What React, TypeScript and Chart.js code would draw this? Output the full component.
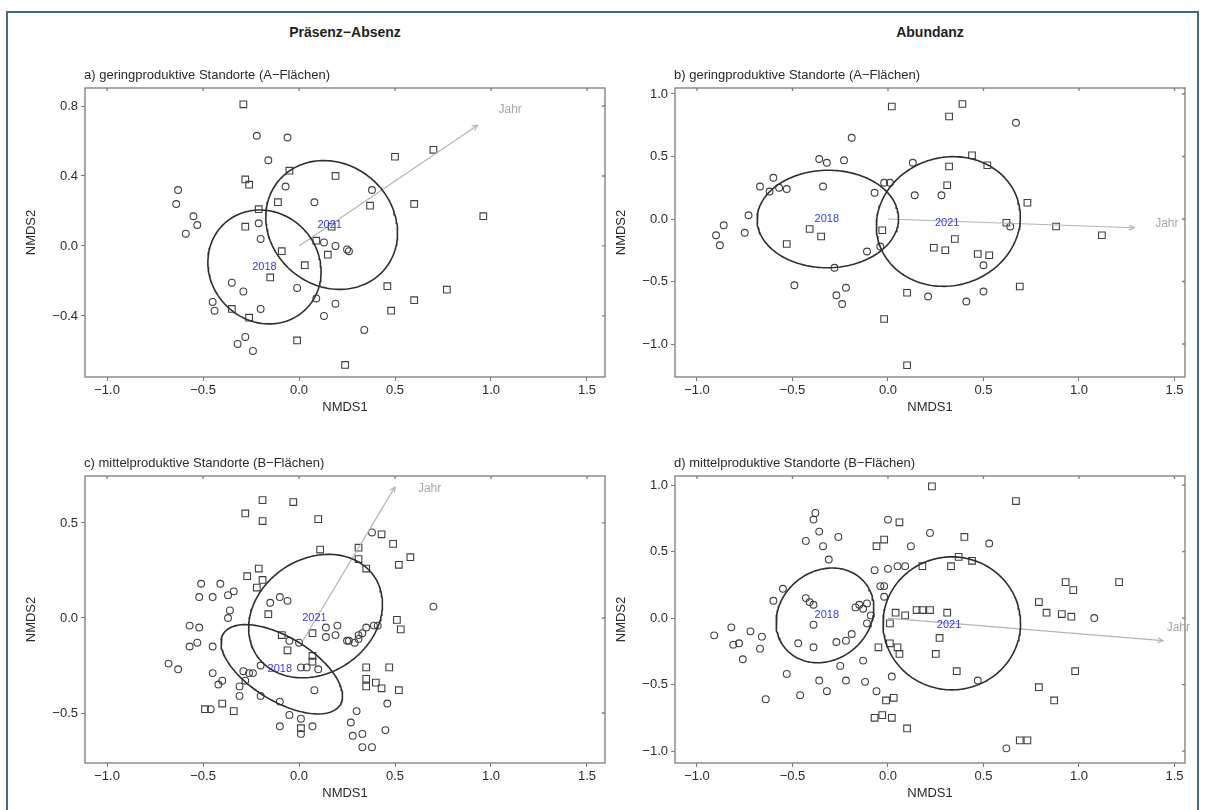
import React, { useEffect, useRef } from "react";
import { Chart, registerables } from "chart.js";
Chart.register(...registerables);

const FONT = "'Liberation Sans', Arial, Helvetica, sans-serif";

// ---------- headings / titles ----------
const headLeft = "Präsenz−Absenz";
const headRight = "Abundanz";
const titleA = "a) geringproduktive Standorte (A−Flächen)";
const titleB = "b) geringproduktive Standorte (A−Flächen)";
const titleC = "c) mittelproduktive Standorte (B−Flächen)";
const titleD = "d) mittelproduktive Standorte (B−Flächen)";
const xTitle = "NMDS1";
const yTitle = "NMDS2";
const arrowLabel = "Jahr";
const year1 = "2018";
const year2 = "2021";

// ---------- tick labels ----------
const xTicks = [-1.0, -0.5, 0.0, 0.5, 1.0, 1.5];
const yTicksA = [-0.4, 0.0, 0.4, 0.8];
const yTicksB = [-1.0, -0.5, 0.0, 0.5, 1.0];
const yTicksC = [-0.5, 0.0, 0.5];
const yTicksD = [-1.0, -0.5, 0.0, 0.5, 1.0];

// ---------- axis ranges ----------
const xRangeLeft = [-1.115, 1.594];
const xRangeRight = [-1.115, 1.555];
const yRangeA = [-0.749, 0.903];
const yRangeB = [-1.264, 1.048];
const yRangeC = [-0.763, 0.747];
const yRangeD = [-1.09, 1.068];

// ---------- panel a (presence/absence, A sites) ----------
const a2018 = [
  [-0.22, 0.63], [-0.06, 0.62], [-0.16, 0.49], [-0.07, 0.34], [-0.63, 0.32], [-0.64, 0.24],
  [0.08, 0.25], [-0.55, 0.17], [-0.53, 0.12], [-0.59, 0.07], [-0.21, 0.13], [-0.2, 0.04],
  [0.13, 0.02], [0.19, 0.0], [0.25, -0.02], [-0.35, -0.21], [-0.29, -0.26], [-0.01, -0.24],
  [0.09, -0.3], [0.19, -0.33], [-0.45, -0.32], [-0.44, -0.37], [-0.2, -0.36], [0.13, -0.4],
  [-0.28, -0.52], [-0.32, -0.56], [-0.24, -0.6], [0.38, 0.32], [0.26, -0.03], [0.34, -0.48],
];
const a2021 = [
  [-0.29, 0.81], [-0.05, 0.43], [0.19, 0.4], [-0.28, 0.38], [-0.26, 0.35], [-0.11, 0.25],
  [-0.21, 0.21], [-0.28, 0.11], [0.17, 0.11], [0.09, 0.03], [0.15, -0.05], [-0.09, -0.03],
  [0.03, -0.11], [-0.15, -0.18], [-0.35, -0.36], [-0.26, -0.41], [-0.01, -0.54], [0.24, -0.68],
  [0.5, 0.51], [0.7, 0.55], [0.37, 0.23], [0.6, 0.24], [0.96, 0.17], [0.46, -0.23],
  [0.77, -0.25], [0.6, -0.31], [0.48, -0.37],
];
const ellA2018 = [-0.18, -0.12, 0.29, 0.33, 20];
const ellA2021 = [0.17, 0.12, 0.33, 0.38, 30];
const arrowA = [0, 0, 0.93, 0.69];
const jahrA = [1.1, 0.78];
const labA2018 = [-0.18, -0.12];
const labA2021 = [0.16, 0.12];

// ---------- panel b (abundance, A sites) ----------
const b2018 = [
  [-0.19, 0.65], [-0.36, 0.48], [-0.32, 0.45], [-0.23, 0.47], [0.13, 0.45], [-0.6, 0.33],
  [-0.67, 0.26], [-0.62, 0.22], [-0.57, 0.25], [-0.53, 0.24], [-0.34, 0.26], [-0.07, 0.21],
  [-0.02, 0.29], [0.01, 0.29], [0.14, 0.19], [-0.73, 0.03], [-0.86, -0.05], [-0.75, -0.11],
  [-0.9, -0.13], [-0.88, -0.21], [-0.11, -0.26], [-0.04, -0.22], [-0.28, -0.39], [-0.49, -0.53],
  [-0.22, -0.55], [-0.27, -0.61], [-0.24, -0.68], [0.67, 0.77], [0.28, 0.19], [0.64, -0.06],
  [0.5, -0.37], [0.21, -0.62], [0.5, -0.58], [0.41, -0.66],
];
const b2021 = [
  [0.02, 0.9], [-0.41, -0.08], [-0.35, -0.14], [-0.53, -0.2], [-0.03, -0.09], [0.1, -0.59],
  [-0.02, -0.8], [0.1, -1.17], [0.39, 0.92], [0.32, 0.82], [0.44, 0.51], [0.32, 0.42],
  [0.52, 0.43], [0.31, 0.27], [0.73, 0.13], [0.62, -0.03], [0.88, -0.06], [1.12, -0.13],
  [0.35, -0.16], [0.3, -0.25], [0.47, -0.28], [0.53, -0.29], [0.69, -0.54], [0.24, -0.23],
];
const ellB2018 = [-0.315, 0.0, 0.37, 0.39, -5];
const ellB2021 = [0.316, -0.02, 0.375, 0.52, -6];
const arrowB = [0, 0, 1.29, -0.07];
const jahrB = [1.46, -0.035];
const labB2018 = [-0.32, 0.0];
const labB2021 = [0.31, -0.03];

// ---------- panel c (presence/absence, B sites) ----------
const c2018 = [
  [-0.51, 0.18], [-0.41, 0.18], [-0.52, 0.11], [-0.45, 0.11], [-0.37, 0.12], [-0.34, 0.14],
  [-0.36, 0.04], [-0.37, 0.0], [-0.57, -0.04], [-0.52, -0.05], [-0.57, -0.15], [-0.53, -0.13],
  [-0.45, -0.15], [-0.68, -0.24], [-0.63, -0.27], [-0.15, 0.08], [-0.1, 0.11], [-0.06, 0.09],
  [0.14, -0.05], [0.2, -0.04], [0.19, -0.09], [0.14, -0.1], [0.25, -0.12], [-0.05, -0.12],
  [0.0, -0.13], [0.01, -0.26], [0.04, -0.26], [0.1, -0.27], [-0.2, -0.25], [-0.45, -0.29],
  [-0.29, -0.28], [-0.26, -0.29], [-0.24, -0.29], [-0.28, -0.33], [-0.42, -0.35], [-0.4, -0.33],
  [-0.31, -0.36], [-0.31, -0.41], [0.08, -0.38], [-0.2, -0.41], [-0.46, -0.48], [-0.1, -0.44],
  [-0.05, -0.51], [0.01, -0.53], [-0.1, -0.57], [0.07, -0.57], [0.01, -0.61], [0.38, 0.45],
  [0.7, 0.06], [0.35, -0.05], [0.39, -0.04], [0.41, -0.04], [0.31, -0.09], [0.33, -0.08],
  [0.26, -0.12], [0.29, -0.13], [0.31, -0.11], [0.46, -0.45], [0.3, -0.49], [0.27, -0.55],
  [0.28, -0.62], [0.33, -0.61], [0.33, -0.68], [0.38, -0.68], [0.45, -0.59],
];
const c2021 = [
  [-0.19, 0.62], [-0.03, 0.61], [-0.28, 0.55], [-0.19, 0.51], [0.1, 0.52], [0.11, 0.36],
  [-0.21, 0.26], [-0.27, 0.22], [-0.19, 0.2], [-0.22, 0.16], [-0.16, 0.02], [0.07, -0.08],
  [-0.09, -0.09], [-0.06, -0.17], [0.07, -0.2], [0.07, -0.23], [-0.49, -0.48], [-0.4, -0.45],
  [-0.34, -0.49], [0.01, -0.58], [0.43, 0.44], [0.49, 0.39], [0.31, 0.37], [0.31, 0.31],
  [0.35, 0.26], [0.52, 0.28], [0.58, 0.32], [0.51, -0.01], [0.53, -0.06], [0.35, -0.26],
  [0.47, -0.26], [0.35, -0.32], [0.35, -0.36], [0.4, -0.34], [0.43, -0.37], [0.52, -0.38],
];
const ellC2018 = [-0.09, -0.27, 0.357, 0.167, -31.6];
const ellC2021 = [0.086, 0.01, 0.37, 0.3, 35];
const arrowC = [0.02, -0.12, 0.5, 0.69];
const jahrC = [0.68, 0.68];
const labC2018 = [-0.1, -0.27];
const labC2021 = [0.08, 0.0];

// ---------- panel d (abundance, B sites) ----------
const d2018 = [
  [-0.38, 0.79], [-0.39, 0.74], [-0.36, 0.65], [-0.43, 0.58], [-0.34, 0.54], [-0.26, 0.61],
  [-0.31, 0.44], [0.0, 0.74], [0.12, 0.54], [-0.07, 0.36], [0.0, 0.37], [0.05, 0.39],
  [0.09, 0.39], [-0.55, 0.22], [-0.6, 0.13], [-0.43, 0.15], [-0.41, 0.12], [-0.39, 0.1],
  [-0.04, 0.24], [-0.02, 0.24], [-0.02, 0.16], [-0.17, 0.08], [-0.15, 0.1], [-0.13, 0.07],
  [-0.11, 0.11], [-0.09, 0.02], [-0.11, -0.04], [-0.39, -0.05], [-0.82, -0.07], [-0.72, -0.1],
  [-0.66, -0.14], [-0.91, -0.13], [-0.81, -0.2], [-0.78, -0.19], [-0.67, -0.23], [-0.76, -0.31],
  [-0.47, -0.19], [-0.39, -0.22], [-0.27, -0.18], [-0.22, -0.17], [-0.19, -0.12], [-0.25, -0.36],
  [-0.13, -0.32], [-0.53, -0.42], [-0.36, -0.47], [-0.22, -0.47], [-0.12, -0.48], [0.02, -0.44],
  [-0.64, -0.61], [-0.46, -0.58], [-0.32, -0.55], [-0.06, -0.55], [0.22, 0.64], [0.53, 0.56],
  [0.47, -0.47], [1.08, 0.0], [0.62, -0.98],
];
const d2021 = [
  [0.06, 0.72], [-0.06, 0.54], [-0.02, 0.59], [0.04, 0.04], [0.09, 0.02], [0.01, -0.04],
  [0.15, 0.06], [-0.05, -0.22], [0.01, -0.19], [0.05, -0.22], [0.06, -0.27], [-0.01, -0.62],
  [0.03, -0.6], [-0.07, -0.75], [-0.03, -0.73], [0.02, -0.75], [0.1, -0.83], [0.23, 0.99],
  [0.67, 0.88], [0.4, 0.61], [0.37, 0.46], [0.44, 0.43], [0.33, 0.39], [0.18, 0.39],
  [0.93, 0.27], [0.97, 0.21], [1.21, 0.27], [0.79, 0.12], [0.83, 0.04], [0.91, 0.03],
  [0.96, 0.01], [0.18, 0.06], [0.22, 0.06], [0.31, 0.04], [0.27, -0.15], [0.25, -0.27],
  [0.36, -0.4], [0.98, -0.4], [0.79, -0.52], [0.87, -0.62], [0.69, -0.92], [0.73, -0.92],
];
const ellD2018 = [-0.33, 0.02, 0.25, 0.36, -12];
const ellD2021 = [0.334, -0.04, 0.36, 0.5, 0];
const arrowD = [0, 0, 1.44, -0.17];
const jahrD = [1.52, -0.075];
const labD2018 = [-0.32, 0.02];
const labD2021 = [0.32, -0.05];

// ---------- styling ----------
const TEXT = "#2a2a2a";
const BOX = "#7c7c7c";
const PT = "#404040";
const ELL = "#2e2e2e";
const ARROW = "#b4b4b4";
const JAHR = "#a6a6a6";
const BLUE = "#3636f2";
const FRAME = "#3f6b85";

function ellipsePts(e: number[]) {
  const [cx, cy, rx, ry, deg] = e;
  const th = (deg * Math.PI) / 180;
  const pts: { x: number; y: number }[] = [];
  const n = 144;
  for (let i = 0; i <= n; i++) {
    const t = (i / n) * 2 * Math.PI;
    const ex = rx * Math.cos(t);
    const ey = ry * Math.sin(t);
    pts.push({ x: cx + ex * Math.cos(th) - ey * Math.sin(th), y: cy + ex * Math.sin(th) + ey * Math.cos(th) });
  }
  return pts;
}

const fmt = (v: any) => {
  const s = Number(v).toFixed(1);
  return s.startsWith("-") ? "−" + s.slice(1) : s;
};

type PanelCfg = {
  title: string;
  p1: number[][];
  p2: number[][];
  e1: number[];
  e2: number[];
  arrow: number[];
  jahr: number[];
  lab1: number[];
  lab2: number[];
  xr: number[];
  yr: number[];
  yt: number[];
  left: number;
  top: number;
  width: number;
  height: number;
  pad: { left: number; top: number; right: number; bottom: number };
  yW: number;
  xH: number;
};

function makeOverlay(cfg: PanelCfg) {
  return {
    id: "overlay",
    afterDatasetsDraw(chart: any) {
      const { ctx, chartArea } = chart;
      const xs = chart.scales.x;
      const ys = chart.scales.y;
      ctx.save();
      // box
      ctx.strokeStyle = BOX;
      ctx.lineWidth = 1.3;
      ctx.strokeRect(chartArea.left, chartArea.top, chartArea.right - chartArea.left, chartArea.bottom - chartArea.top);
      // small inner ticks on top and right edges at major positions
      ctx.beginPath();
      xTicks.forEach((v) => {
        const px = xs.getPixelForValue(v);
        ctx.moveTo(px, chartArea.top);
        ctx.lineTo(px, chartArea.top + 3);
      });
      cfg.yt.forEach((v) => {
        const py = ys.getPixelForValue(v);
        ctx.moveTo(chartArea.right, py);
        ctx.lineTo(chartArea.right - 3, py);
      });
      ctx.stroke();
      // panel title
      ctx.fillStyle = TEXT;
      ctx.font = `13px ${FONT}`;
      ctx.textAlign = "left";
      ctx.textBaseline = "middle";
      ctx.fillText(cfg.title, chartArea.left - 1, chartArea.top - 13);
      // arrow head
      const x0 = xs.getPixelForValue(cfg.arrow[0]);
      const y0 = ys.getPixelForValue(cfg.arrow[1]);
      const x1 = xs.getPixelForValue(cfg.arrow[2]);
      const y1 = ys.getPixelForValue(cfg.arrow[3]);
      const ang = Math.atan2(y1 - y0, x1 - x0);
      const hl = 6;
      ctx.strokeStyle = ARROW;
      ctx.lineWidth = 1.2;
      ctx.beginPath();
      ctx.moveTo(x1 - hl * Math.cos(ang - 0.45), y1 - hl * Math.sin(ang - 0.45));
      ctx.lineTo(x1, y1);
      ctx.lineTo(x1 - hl * Math.cos(ang + 0.45), y1 - hl * Math.sin(ang + 0.45));
      ctx.stroke();
      // Jahr label
      ctx.fillStyle = JAHR;
      ctx.font = `12px ${FONT}`;
      ctx.textAlign = "center";
      ctx.fillText(arrowLabel, xs.getPixelForValue(cfg.jahr[0]), ys.getPixelForValue(cfg.jahr[1]));
      // year labels
      ctx.fillStyle = BLUE;
      ctx.font = `11px ${FONT}`;
      ctx.fillText(year1, xs.getPixelForValue(cfg.lab1[0]), ys.getPixelForValue(cfg.lab1[1]));
      ctx.fillText(year2, xs.getPixelForValue(cfg.lab2[0]), ys.getPixelForValue(cfg.lab2[1]));
      ctx.restore();
    },
  };
}

function Panel({ cfg }: { cfg: PanelCfg }) {
  const ref = useRef<HTMLCanvasElement>(null);
  useEffect(() => {
    const toXY = (arr: number[][]) => arr.map(([x, y]) => ({ x, y }));
    const tickFont = { family: FONT, size: 13 };
    const chart = new Chart(ref.current as HTMLCanvasElement, {
      type: "scatter",
      data: {
        datasets: [
          {
            data: ellipsePts(cfg.e1),
            showLine: true,
            pointRadius: 0,
            borderColor: ELL,
            borderWidth: 1.6,
            fill: false,
          } as any,
          {
            data: ellipsePts(cfg.e2),
            showLine: true,
            pointRadius: 0,
            borderColor: ELL,
            borderWidth: 1.6,
            fill: false,
          } as any,
          {
            data: [
              { x: cfg.arrow[0], y: cfg.arrow[1] },
              { x: cfg.arrow[2], y: cfg.arrow[3] },
            ],
            showLine: true,
            pointRadius: 0,
            borderColor: ARROW,
            borderWidth: 1.2,
            fill: false,
          } as any,
          {
            data: toXY(cfg.p1),
            pointStyle: "circle",
            pointRadius: 3.4,
            borderColor: PT,
            borderWidth: 1.1,
            backgroundColor: "rgba(0,0,0,0)",
          } as any,
          {
            data: toXY(cfg.p2),
            pointStyle: "rect",
            pointRadius: 4.7,
            borderColor: PT,
            borderWidth: 1.1,
            backgroundColor: "rgba(0,0,0,0)",
          } as any,
        ],
      },
      options: {
        responsive: false,
        animation: false,
        devicePixelRatio: 1,
        events: [],
        layout: { padding: cfg.pad },
        plugins: {
          legend: { display: false },
          tooltip: { enabled: false },
          title: { display: false },
        },
        scales: {
          x: {
            type: "linear",
            position: "bottom",
            min: cfg.xr[0],
            max: cfg.xr[1],
            afterBuildTicks: (s: any) => {
              s.ticks = xTicks.map((v) => ({ value: v }));
            },
            afterFit: (s: any) => {
              s.height = cfg.xH;
            },
            grid: { display: true, drawOnChartArea: false, drawTicks: true, tickLength: 4, color: BOX, tickColor: BOX },
            border: { display: false },
            ticks: { padding: 2, color: TEXT, font: tickFont, callback: fmt, maxRotation: 0, autoSkip: false },
            title: { display: true, text: xTitle, color: TEXT, font: tickFont, padding: 0 },
          },
          y: {
            type: "linear",
            position: "left",
            min: cfg.yr[0],
            max: cfg.yr[1],
            afterBuildTicks: (s: any) => {
              s.ticks = cfg.yt.map((v) => ({ value: v }));
            },
            afterFit: (s: any) => {
              s.width = cfg.yW;
            },
            grid: { display: true, drawOnChartArea: false, drawTicks: true, tickLength: 4, color: BOX, tickColor: BOX },
            border: { display: false },
            ticks: { padding: 3, color: TEXT, font: tickFont, callback: fmt, autoSkip: false },
            title: { display: true, text: yTitle, color: TEXT, font: tickFont, padding: 0 },
          },
        },
      } as any,
      plugins: [makeOverlay(cfg) as any],
    });
    return () => chart.destroy();
  }, [cfg]);
  return (
    <canvas
      ref={ref}
      width={cfg.width}
      height={cfg.height}
      style={{ position: "absolute", left: cfg.left, top: cfg.top, width: cfg.width, height: cfg.height }}
    />
  );
}

// Layout: chart areas a/c: x 85..605 ; b/d: x 675..1185 ; top row y 88..377 ; bottom row y 476..763
const leftGeom = { left: 0, width: 615, yW: 61 };
const rightGeom = { left: 610, width: 590, yW: 61 };

const panels: PanelCfg[] = [
  {
    title: titleA, p1: a2018, p2: a2021, e1: ellA2018, e2: ellA2021, arrow: arrowA, jahr: jahrA,
    lab1: labA2018, lab2: labA2021, xr: xRangeLeft, yr: yRangeA, yt: yTicksA,
    left: leftGeom.left, top: 55, width: leftGeom.width, height: 360,
    pad: { left: 24, top: 33, right: 10, bottom: 0 }, yW: leftGeom.yW, xH: 38,
  },
  {
    title: titleB, p1: b2018, p2: b2021, e1: ellB2018, e2: ellB2021, arrow: arrowB, jahr: jahrB,
    lab1: labB2018, lab2: labB2021, xr: xRangeRight, yr: yRangeB, yt: yTicksB,
    left: rightGeom.left, top: 55, width: rightGeom.width, height: 360,
    pad: { left: 4, top: 33, right: 15, bottom: 0 }, yW: rightGeom.yW, xH: 38,
  },
  {
    title: titleC, p1: c2018, p2: c2021, e1: ellC2018, e2: ellC2021, arrow: arrowC, jahr: jahrC,
    lab1: labC2018, lab2: labC2021, xr: xRangeLeft, yr: yRangeC, yt: yTicksC,
    left: leftGeom.left, top: 440, width: leftGeom.width, height: 361,
    pad: { left: 24, top: 36, right: 10, bottom: 0 }, yW: leftGeom.yW, xH: 38,
  },
  {
    title: titleD, p1: d2018, p2: d2021, e1: ellD2018, e2: ellD2021, arrow: arrowD, jahr: jahrD,
    lab1: labD2018, lab2: labD2021, xr: xRangeRight, yr: yRangeD, yt: yTicksD,
    left: rightGeom.left, top: 440, width: rightGeom.width, height: 361,
    pad: { left: 4, top: 36, right: 15, bottom: 0 }, yW: rightGeom.yW, xH: 38,
  },
];

export default function App() {
  return (
    <div style={{ position: "absolute", left: 0, top: 0, width: 1206, height: 810, background: "#fff", overflow: "hidden" }}>
      <div
        style={{
          position: "absolute",
          left: 6,
          top: 11,
          width: 1193,
          height: 820,
          borderTop: `2px solid ${FRAME}`,
          borderLeft: `2px solid ${FRAME}`,
          borderRight: `2px solid ${FRAME}`,
          boxSizing: "border-box",
        }}
      />
      <div
        style={{
          position: "absolute", left: 245, top: 24, width: 200, textAlign: "center",
          font: `bold 14px ${FONT}`, color: "#1e1e1e",
        }}
      >
        {headLeft}
      </div>
      <div
        style={{
          position: "absolute", left: 830, top: 24, width: 200, textAlign: "center",
          font: `bold 14px ${FONT}`, color: "#1e1e1e",
        }}
      >
        {headRight}
      </div>
      {panels.map((p, i) => (
        <Panel key={i} cfg={p} />
      ))}
    </div>
  );
}
